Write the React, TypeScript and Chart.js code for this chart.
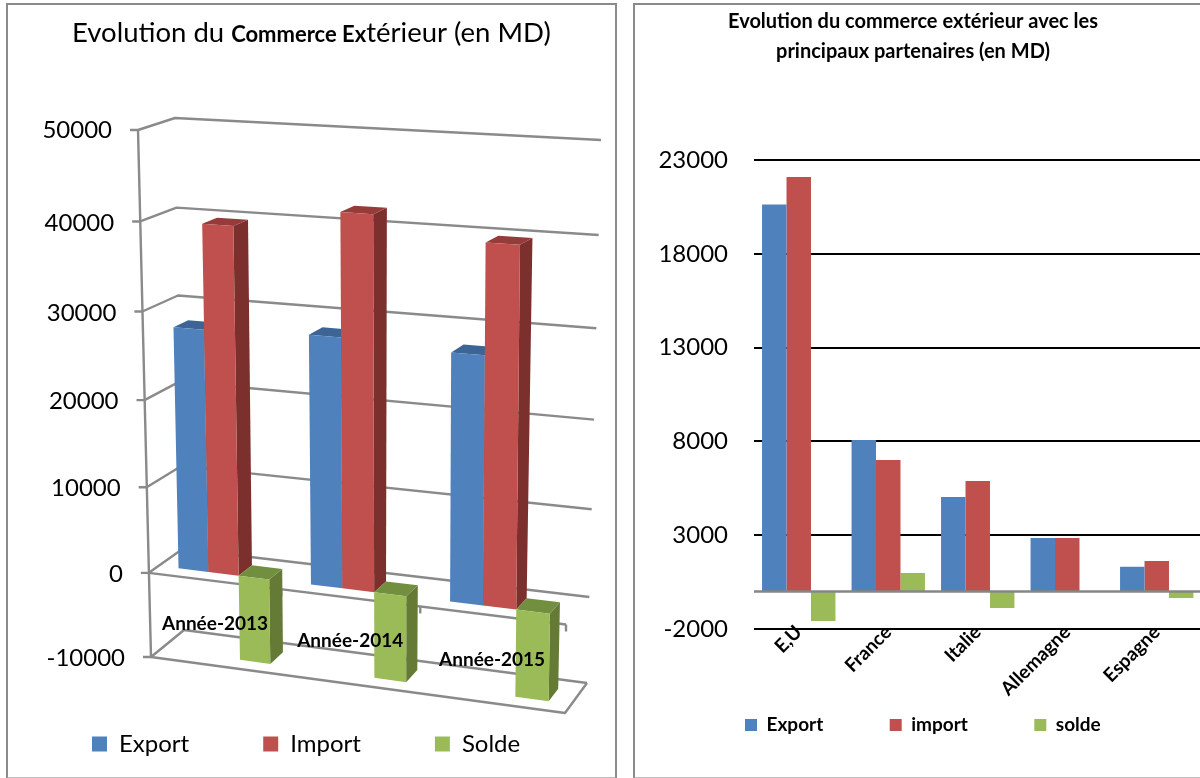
import React, { useEffect, useRef } from "react";
import { Chart, registerables, LinearScale, CategoryScale, Scale } from "chart.js";

// ---------- data: left chart ----------
const years = ["Année-2013", "Année-2014", "Année-2015"];
const exportByYear = [27900, 28350, 27750];
const importByYear = [39700, 42000, 39800];
const soldeByYear = [-10000, -10000, -10000];
const yearTicksMin = -10000;
const yearTicksMax = 50000;
const yearTicksStep = 10000;

// ---------- data: right chart ----------
const partners = ["E,U", "France", "Italie", "Allemagne", "Espagne"];
const exportByPartner = [20630, 8080, 5040, 2850, 1320];
const importByPartner = [22100, 7010, 5890, 2850, 1630];
const soldeByPartner = [-1580, 990, -880, 0, -350];
const partnerTicksMin = -2000;
const partnerTicksMax = 23000;
const partnerTicksStep = 5000;

const BLUE = "#4F81BD";
const RED = "#C0504D";
const GREEN = "#9BBB59";
const FONT = "Lato, Carlito, sans-serif";

const leftTitle: [string, boolean][] = [
  ["Evolution du ", false],
  ["Commerce Ex", true],
  ["térieur (en MD)", false],
];
const rightTitle = ["Evolution du commerce extérieur avec les", "principaux partenaires (en MD)"];

// tick labels may sit outside their scale box
(Scale.prototype as any)._computeLabelArea = function () {
  return undefined;
};

// perspective of the 3D box: s = vertical fraction of the y scale, u = horizontal fraction, w = depth
const lerp = (a: number, b: number, t: number) => a + (b - a) * t;
function project(s: number, u: number, w: number) {
  const uw = u - 0.072 * u * (1 - u);
  const lf = [138 + 13 * s, 130 + 527 * (s + 0.05 * s * (1 - s))];
  const lb = [175 + 9 * s, 118 + 512 * (s + 0.06 * s * (1 - s))];
  const rb = [601 - 14 * s, 140 + 543 * (s + 0.06 * s * (1 - s))];
  const rf = [571 - 6 * s, 154 + 559 * (s + 0.06 * s * (1 - s))];
  const lx = lerp(lf[0], lb[0], w), ly = lerp(lf[1], lb[1], w);
  const rx = lerp(rf[0], rb[0], w), ry = lerp(rf[1], rb[1], w);
  return [lerp(lx, rx, uw), lerp(ly, ry, uw)];
}

class TiltLinear extends LinearScale {
  static id = "tiltLinear";
  static defaults = {};
  _computeLabelItems(area: any) {
    const items = (LinearScale.prototype as any)._computeLabelItems.call(this, area);
    const a = this as any;
    items.forEach((it: any, i: number) => {
      const py = a.getPixelForValue(a.ticks[i].value);
      const s = (py - a.top) / (a.bottom - a.top);
      const p = project(s, 0, 0);
      it.options.translation = [p[0] - 26, p[1] + (s > 0 ? 1.5 : 0)];
    });
    return items;
  }
}

class TiltCategory extends CategoryScale {
  static id = "tiltCategory";
  static defaults = {};
  _computeLabelItems(area: any) {
    const items = (CategoryScale.prototype as any)._computeLabelItems.call(this, area);
    const a = this as any;
    items.forEach((it: any, i: number) => {
      const u = (a.getPixelForTick(i) - a.left) / (a.right - a.left);
      const p = project(55000 / 60000, u, 0);
      it.options.translation = p;
      it.options.textAlign = "center";
      it.options.textBaseline = "middle";
      it.textOffset = 0;
    });
    return items;
  }
}

Chart.register(...registerables, TiltLinear as any, TiltCategory as any);

function drawBars(chart: any, index: number) {
  const { ctx, chartArea: ca } = chart;
  const ds = chart.data.datasets[index];
  const wf = 0.29, wb = 0.71;
  chart.getDatasetMeta(index).data.forEach((el: any) => {
    const { x, y, base, width } = el.getProps(["x", "y", "base", "width"], true);
    const ul = (x - width / 2 - ca.left) / (ca.right - ca.left);
    const ur = (x + width / 2 - ca.left) / (ca.right - ca.left);
    const sv = (y - ca.top) / (ca.bottom - ca.top);
    const sb = (base - ca.top) / (ca.bottom - ca.top);
    const sTop = Math.min(sv, sb);
    const fill = (pts: number[][], c: string) => {
      ctx.beginPath();
      pts.forEach((p, i) => (i ? ctx.lineTo(p[0], p[1]) : ctx.moveTo(p[0], p[1])));
      ctx.closePath();
      ctx.fillStyle = c;
      ctx.fill();
    };
    fill([project(sv, ur, wf), project(sv, ur, wb), project(sb, ur, wb), project(sb, ur, wf)], ds.sideColor);
    fill([project(sTop, ul, wf), project(sTop, ur, wf), project(sTop, ur, wb), project(sTop, ul, wb)], ds.topColor);
    fill([project(sv, ul, wf), project(sv, ur, wf), project(sb, ur, wf), project(sb, ul, wf)], ds.backgroundColor);
  });
}

const box3dPlugin = {
  id: "box3d",
  beforeDatasetsDraw(chart: any) {
    const { ctx, chartArea: ca, scales } = chart;
    const yS = scales.y;
    const sOf = (v: number) => (yS.getPixelForValue(v) - ca.top) / (ca.bottom - ca.top);
    ctx.save();
    ctx.strokeStyle = "#8a8a8a";
    ctx.lineWidth = 2.4;
    ctx.lineJoin = "round";
    const poly = (pts: number[][]) => {
      ctx.beginPath();
      pts.forEach((p, i) => (i ? ctx.lineTo(p[0], p[1]) : ctx.moveTo(p[0], p[1])));
      ctx.stroke();
    };
    poly([project(0, 0, 0), project(1, 0, 0)]);
    yS.ticks.forEach((t: any) => {
      const s = sOf(t.value);
      const f = project(s, 0, 0);
      poly([[f[0] - 8, f[1]], f, project(s, 0, 1), project(s, 1, 1)]);
    });
    const sMin = sOf(yearTicksMin);
    poly([project(sMin, 0, 0), project(sMin, 1, 0), project(sMin, 1, 1)]);
    const sZero = sOf(0);
    poly([project(sZero, 0, 0), project(sZero, 1, 0)]);
    [1 / 3, 2 / 3, 1].forEach((u) => {
      const p = project(sZero, u, 0);
      poly([p, [p[0], p[1] + 7]]);
    });
    ctx.restore();
  },
  // bars are painted in series order so that each one covers the previous
  beforeDatasetDraw() {
    return false;
  },
  afterDatasetsDraw(chart: any) {
    chart.data.datasets.forEach((_: any, i: number) => drawBars(chart, i));
  },
  afterDraw(chart: any) {
    const { ctx } = chart;
    ctx.save();
    ctx.fillStyle = "#000";
    ctx.textBaseline = "alphabetic";
    let x = 72;
    leftTitle.forEach(([text, bold]) => {
      ctx.font = bold ? `bold 22px ${FONT}` : `27.5px ${FONT}`;
      ctx.fillText(text, x, 42);
      x += ctx.measureText(text).width;
    });
    ctx.restore();
  },
};

const rightPlugin = {
  id: "rightExtras",
  afterDatasetsDraw(chart: any) {
    const { ctx, chartArea: ca, scales } = chart;
    const y0 = scales.y.getPixelForValue(0);
    ctx.save();
    ctx.strokeStyle = "#868686";
    ctx.lineWidth = 2.4;
    ctx.beginPath();
    ctx.moveTo(ca.left, y0);
    ctx.lineTo(ca.right, y0);
    ctx.stroke();
    ctx.fillStyle = "#000";
    ctx.font = `bold 20px ${FONT}`;
    ctx.textAlign = "center";
    ctx.textBaseline = "middle";
    rightTitle.forEach((t, i) => ctx.fillText(t, 288, 22 + 30 * i));
    ctx.restore();
  },
};

export default function App() {
  const leftRef = useRef<HTMLCanvasElement>(null);
  const rightRef = useRef<HTMLCanvasElement>(null);

  useEffect(() => {
    const left = new Chart(leftRef.current!, {
      type: "bar",
      data: {
        labels: years,
        datasets: [
          { label: "Export", data: exportByYear, backgroundColor: BLUE, topColor: "#3C6596", sideColor: "#3A5F8C" } as any,
          { label: "Import", data: importByYear, backgroundColor: RED, topColor: "#953B39", sideColor: "#7B302E" } as any,
          { label: "Solde", data: soldeByYear, backgroundColor: GREEN, topColor: "#728F40", sideColor: "#647A35" } as any,
        ],
      },
      plugins: [box3dPlugin],
      options: {
        animation: false,
        responsive: false,
        events: [],
        layout: { padding: { left: 18, right: 0, top: 130, bottom: 12 } },
        datasets: { bar: { categoryPercentage: 0.69, barPercentage: 1 } },
        plugins: {
          title: { display: false },
          tooltip: { enabled: false },
          legend: {
            position: "bottom",
            align: "start",
            labels: { boxWidth: 15, boxHeight: 15, padding: 74, color: "#000", font: { family: FONT, size: 24 } },
          },
        },
        scales: {
          x: {
            type: "tiltCategory",
            grid: { display: false },
            border: { display: false },
            afterFit: (s: any) => { s.height = 1; },
            ticks: { z: 1, autoSkip: false, maxRotation: 0, color: "#000", font: { family: FONT, size: 19, weight: "bold" } },
          },
          y: {
            type: "tiltLinear",
            min: yearTicksMin,
            max: yearTicksMax,
            grid: { display: false },
            border: { display: false },
            afterFit: (s: any) => { s.width = 132; },
            ticks: { stepSize: yearTicksStep, color: "#000", font: { family: FONT, size: 24 }, callback: (v: any) => String(v) },
          },
          yEnd: {
            position: "right",
            grid: { display: false },
            border: { display: false },
            ticks: { display: false },
            afterFit: (s: any) => { s.width = 65; },
          },
        },
      } as any,
    });

    const right = new Chart(rightRef.current!, {
      type: "bar",
      data: {
        labels: partners,
        datasets: [
          { label: "Export", data: exportByPartner, backgroundColor: BLUE },
          { label: "import", data: importByPartner, backgroundColor: RED },
          { label: "solde", data: soldeByPartner, backgroundColor: GREEN },
        ],
      },
      plugins: [rightPlugin],
      options: {
        animation: false,
        responsive: false,
        events: [],
        layout: { padding: { left: 53.5, right: 0.5, top: 160, bottom: 33.5 } },
        datasets: { bar: { categoryPercentage: 0.82, barPercentage: 1 } },
        plugins: {
          title: { display: false },
          tooltip: { enabled: false },
          legend: {
            position: "bottom",
            align: "start",
            labels: { boxWidth: 12, boxHeight: 12, padding: 66.5, color: "#000", font: { family: FONT, size: 19, weight: "bold" } },
          },
        },
        scales: {
          x: {
            grid: { display: false },
            border: { display: false },
            afterFit: (s: any) => { s.height = 20; },
            ticks: { autoSkip: false, minRotation: 45, maxRotation: 45, padding: -16, color: "#000", font: { family: FONT, size: 19, weight: "bold" } },
          },
          y: {
            min: partnerTicksMin,
            max: partnerTicksMax,
            grid: { color: "#000", lineWidth: 2, drawTicks: false },
            border: { display: false },
            afterFit: (s: any) => { s.width = 75.5; },
            ticks: { stepSize: partnerTicksStep, padding: 26, color: "#000", font: { family: FONT, size: 24 }, callback: (v: any) => String(v) },
          },
        },
      } as any,
    });

    return () => {
      left.destroy();
      right.destroy();
    };
  }, []);

  return (
    <div style={{ position: "fixed", left: 0, top: 0, width: 1200, height: 778, overflow: "hidden", background: "#fff" }}>
      <div style={{ position: "absolute", left: 6, top: 3, width: 607, height: 772, borderLeft: "2.5px solid #8a8a8a", borderRight: "2.5px solid #8a8a8a", borderTop: "2.5px solid #8a8a8a", borderBottom: "2px solid #bdbdbd" }} />
      <div style={{ position: "absolute", left: 633, top: 3, width: 620, height: 772, borderLeft: "2.5px solid #8a8a8a", borderTop: "2.5px solid #8a8a8a", borderBottom: "2px solid #bdbdbd" }} />
      <canvas ref={leftRef} width={632} height={778} style={{ position: "absolute", left: 0, top: 0, width: 632, height: 778 }} />
      <canvas ref={rightRef} width={577} height={778} style={{ position: "absolute", left: 625, top: 0, width: 577, height: 778 }} />
    </div>
  );
}
